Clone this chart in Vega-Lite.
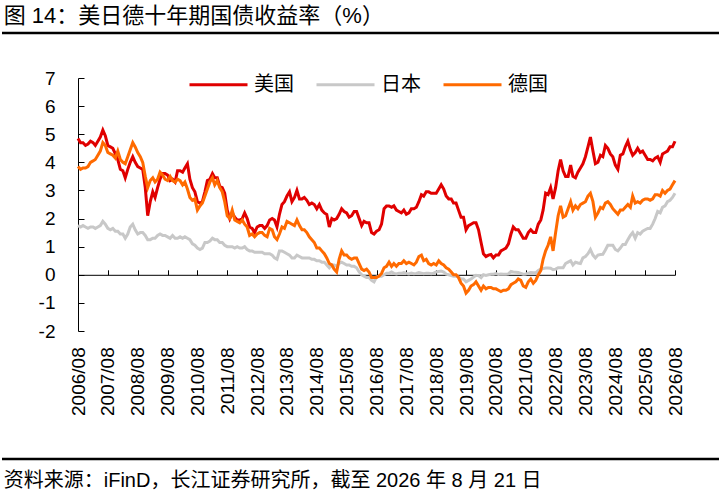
{
  "$schema": "https://vega.github.io/schema/vega-lite/v6.json",
  "padding": {"top": 4, "left": 0, "right": 0, "bottom": 0},
  "spacing": 34,
  "config": {
    "view": {"stroke": null},
    "font": "Liberation Sans, Noto Sans CJK SC"
  },
  "vconcat": [
    {
      "width": 719,
      "height": 1,
      "title": {"text": "图 14：美日德十年期国债收益率（%）", "anchor": "start", "fontSize": 22, "fontWeight": "normal", "color": "#000", "offset": 4, "dx": 3},
      "data": {"values": [{}]},
      "mark": {"type": "rule", "strokeWidth": 2.5, "color": "#000"},
      "encoding": {"y": {"datum": 1, "type": "quantitative", "scale": {"domain": [0, 1]}, "axis": null}}
    },
    {
      "width": 673,
      "height": 253,
      "data": {
        "format": {"parse": {"d": "date:'%Y-%m'"}},
        "values": [
{"d":"2006-08","c":"美国","v":4.85},{"d":"2006-09","c":"美国","v":4.7},{"d":"2006-10","c":"美国","v":4.7},{"d":"2006-11","c":"美国","v":4.6},{"d":"2006-12","c":"美国","v":4.65},
{"d":"2007-01","c":"美国","v":4.75},{"d":"2007-02","c":"美国","v":4.7},{"d":"2007-03","c":"美国","v":4.6},{"d":"2007-04","c":"美国","v":4.75},{"d":"2007-05","c":"美国","v":4.9},{"d":"2007-06","c":"美国","v":5.15},{"d":"2007-07","c":"美国","v":4.95},{"d":"2007-08","c":"美国","v":4.6},{"d":"2007-09","c":"美国","v":4.55},{"d":"2007-10","c":"美国","v":4.5},{"d":"2007-11","c":"美国","v":4.3},{"d":"2007-12","c":"美国","v":4.1},
{"d":"2008-01","c":"美国","v":3.75},{"d":"2008-02","c":"美国","v":3.7},{"d":"2008-03","c":"美国","v":3.45},{"d":"2008-04","c":"美国","v":3.75},{"d":"2008-05","c":"美国","v":4.0},{"d":"2008-06","c":"美国","v":4.2},{"d":"2008-07","c":"美国","v":4.0},{"d":"2008-08","c":"美国","v":3.85},{"d":"2008-09","c":"美国","v":3.8},{"d":"2008-10","c":"美国","v":3.75},{"d":"2008-11","c":"美国","v":3.1},{"d":"2008-12","c":"美国","v":2.1},
{"d":"2009-01","c":"美国","v":2.6},{"d":"2009-02","c":"美国","v":2.95},{"d":"2009-03","c":"美国","v":2.75},{"d":"2009-04","c":"美国","v":3.1},{"d":"2009-05","c":"美国","v":3.4},{"d":"2009-06","c":"美国","v":3.6},{"d":"2009-07","c":"美国","v":3.6},{"d":"2009-08","c":"美国","v":3.55},{"d":"2009-09","c":"美国","v":3.35},{"d":"2009-10","c":"美国","v":3.4},{"d":"2009-11","c":"美国","v":3.3},{"d":"2009-12","c":"美国","v":3.7},
{"d":"2010-01","c":"美国","v":3.7},{"d":"2010-02","c":"美国","v":3.65},{"d":"2010-03","c":"美国","v":3.8},{"d":"2010-04","c":"美国","v":3.95},{"d":"2010-05","c":"美国","v":3.4},{"d":"2010-06","c":"美国","v":3.1},{"d":"2010-07","c":"美国","v":2.95},{"d":"2010-08","c":"美国","v":2.6},{"d":"2010-09","c":"美国","v":2.55},{"d":"2010-10","c":"美国","v":2.6},{"d":"2010-11","c":"美国","v":2.95},{"d":"2010-12","c":"美国","v":3.35},
{"d":"2011-01","c":"美国","v":3.4},{"d":"2011-02","c":"美国","v":3.6},{"d":"2011-03","c":"美国","v":3.45},{"d":"2011-04","c":"美国","v":3.45},{"d":"2011-05","c":"美国","v":3.15},{"d":"2011-06","c":"美国","v":3.1},{"d":"2011-07","c":"美国","v":2.9},{"d":"2011-08","c":"美国","v":2.3},{"d":"2011-09","c":"美国","v":2.0},{"d":"2011-10","c":"美国","v":2.2},{"d":"2011-11","c":"美国","v":2.05},{"d":"2011-12","c":"美国","v":1.95},
{"d":"2012-01","c":"美国","v":1.95},{"d":"2012-02","c":"美国","v":2.0},{"d":"2012-03","c":"美国","v":2.2},{"d":"2012-04","c":"美国","v":2.0},{"d":"2012-05","c":"美国","v":1.7},{"d":"2012-06","c":"美国","v":1.65},{"d":"2012-07","c":"美国","v":1.5},{"d":"2012-08","c":"美国","v":1.7},{"d":"2012-09","c":"美国","v":1.75},{"d":"2012-10","c":"美国","v":1.75},{"d":"2012-11","c":"美国","v":1.65},{"d":"2012-12","c":"美国","v":1.75},
{"d":"2013-01","c":"美国","v":1.95},{"d":"2013-02","c":"美国","v":2.0},{"d":"2013-03","c":"美国","v":1.95},{"d":"2013-04","c":"美国","v":1.7},{"d":"2013-05","c":"美国","v":2.15},{"d":"2013-06","c":"美国","v":2.5},{"d":"2013-07","c":"美国","v":2.6},{"d":"2013-08","c":"美国","v":2.8},{"d":"2013-09","c":"美国","v":2.95},{"d":"2013-10","c":"美国","v":2.6},{"d":"2013-11","c":"美国","v":2.75},{"d":"2013-12","c":"美国","v":3.0},
{"d":"2014-01","c":"美国","v":2.7},{"d":"2014-02","c":"美国","v":2.7},{"d":"2014-03","c":"美国","v":2.75},{"d":"2014-04","c":"美国","v":2.65},{"d":"2014-05","c":"美国","v":2.5},{"d":"2014-06","c":"美国","v":2.55},{"d":"2014-07","c":"美国","v":2.5},{"d":"2014-08","c":"美国","v":2.35},{"d":"2014-09","c":"美国","v":2.5},{"d":"2014-10","c":"美国","v":2.3},{"d":"2014-11","c":"美国","v":2.2},{"d":"2014-12","c":"美国","v":2.15},
{"d":"2015-01","c":"美国","v":1.7},{"d":"2015-02","c":"美国","v":2.0},{"d":"2015-03","c":"美国","v":1.95},{"d":"2015-04","c":"美国","v":2.0},{"d":"2015-05","c":"美国","v":2.15},{"d":"2015-06","c":"美国","v":2.35},{"d":"2015-07","c":"美国","v":2.25},{"d":"2015-08","c":"美国","v":2.2},{"d":"2015-09","c":"美国","v":2.05},{"d":"2015-10","c":"美国","v":2.1},{"d":"2015-11","c":"美国","v":2.25},{"d":"2015-12","c":"美国","v":2.25},
{"d":"2016-01","c":"美国","v":2.0},{"d":"2016-02","c":"美国","v":1.75},{"d":"2016-03","c":"美国","v":1.9},{"d":"2016-04","c":"美国","v":1.85},{"d":"2016-05","c":"美国","v":1.85},{"d":"2016-06","c":"美国","v":1.5},{"d":"2016-07","c":"美国","v":1.45},{"d":"2016-08","c":"美国","v":1.55},{"d":"2016-09","c":"美国","v":1.6},{"d":"2016-10","c":"美国","v":1.8},{"d":"2016-11","c":"美国","v":2.35},{"d":"2016-12","c":"美国","v":2.45},
{"d":"2017-01","c":"美国","v":2.45},{"d":"2017-02","c":"美国","v":2.4},{"d":"2017-03","c":"美国","v":2.45},{"d":"2017-04","c":"美国","v":2.3},{"d":"2017-05","c":"美国","v":2.25},{"d":"2017-06","c":"美国","v":2.2},{"d":"2017-07","c":"美国","v":2.3},{"d":"2017-08","c":"美国","v":2.15},{"d":"2017-09","c":"美国","v":2.2},{"d":"2017-10","c":"美国","v":2.35},{"d":"2017-11","c":"美国","v":2.35},{"d":"2017-12","c":"美国","v":2.4},
{"d":"2018-01","c":"美国","v":2.6},{"d":"2018-02","c":"美国","v":2.85},{"d":"2018-03","c":"美国","v":2.8},{"d":"2018-04","c":"美国","v":2.95},{"d":"2018-05","c":"美国","v":2.95},{"d":"2018-06","c":"美国","v":2.9},{"d":"2018-07","c":"美国","v":2.9},{"d":"2018-08","c":"美国","v":2.9},{"d":"2018-09","c":"美国","v":3.05},{"d":"2018-10","c":"美国","v":3.2},{"d":"2018-11","c":"美国","v":3.05},{"d":"2018-12","c":"美国","v":2.8},
{"d":"2019-01","c":"美国","v":2.7},{"d":"2019-02","c":"美国","v":2.7},{"d":"2019-03","c":"美国","v":2.55},{"d":"2019-04","c":"美国","v":2.55},{"d":"2019-05","c":"美国","v":2.3},{"d":"2019-06","c":"美国","v":2.05},{"d":"2019-07","c":"美国","v":2.05},{"d":"2019-08","c":"美国","v":1.6},{"d":"2019-09","c":"美国","v":1.75},{"d":"2019-10","c":"美国","v":1.8},{"d":"2019-11","c":"美国","v":1.85},{"d":"2019-12","c":"美国","v":1.85},
{"d":"2020-01","c":"美国","v":1.6},{"d":"2020-02","c":"美国","v":1.15},{"d":"2020-03","c":"美国","v":0.75},{"d":"2020-04","c":"美国","v":0.65},{"d":"2020-05","c":"美国","v":0.7},{"d":"2020-06","c":"美国","v":0.72},{"d":"2020-07","c":"美国","v":0.6},{"d":"2020-08","c":"美国","v":0.7},{"d":"2020-09","c":"美国","v":0.7},{"d":"2020-10","c":"美国","v":0.85},{"d":"2020-11","c":"美国","v":0.9},{"d":"2020-12","c":"美国","v":0.95},
{"d":"2021-01","c":"美国","v":1.1},{"d":"2021-02","c":"美国","v":1.45},{"d":"2021-03","c":"美国","v":1.7},{"d":"2021-04","c":"美国","v":1.6},{"d":"2021-05","c":"美国","v":1.6},{"d":"2021-06","c":"美国","v":1.45},{"d":"2021-07","c":"美国","v":1.3},{"d":"2021-08","c":"美国","v":1.3},{"d":"2021-09","c":"美国","v":1.5},{"d":"2021-10","c":"美国","v":1.6},{"d":"2021-11","c":"美国","v":1.5},{"d":"2021-12","c":"美国","v":1.5},
{"d":"2022-01","c":"美国","v":1.8},{"d":"2022-02","c":"美国","v":1.95},{"d":"2022-03","c":"美国","v":2.3},{"d":"2022-04","c":"美国","v":2.9},{"d":"2022-05","c":"美国","v":2.85},{"d":"2022-06","c":"美国","v":3.1},{"d":"2022-07","c":"美国","v":2.7},{"d":"2022-08","c":"美国","v":3.1},{"d":"2022-09","c":"美国","v":3.7},{"d":"2022-10","c":"美国","v":4.1},{"d":"2022-11","c":"美国","v":3.7},{"d":"2022-12","c":"美国","v":3.5},
{"d":"2023-01","c":"美国","v":3.5},{"d":"2023-02","c":"美国","v":3.9},{"d":"2023-03","c":"美国","v":3.5},{"d":"2023-04","c":"美国","v":3.45},{"d":"2023-05","c":"美国","v":3.65},{"d":"2023-06","c":"美国","v":3.8},{"d":"2023-07","c":"美国","v":3.95},{"d":"2023-08","c":"美国","v":4.2},{"d":"2023-09","c":"美国","v":4.55},{"d":"2023-10","c":"美国","v":4.9},{"d":"2023-11","c":"美国","v":4.4},{"d":"2023-12","c":"美国","v":3.95},
{"d":"2024-01","c":"美国","v":4.0},{"d":"2024-02","c":"美国","v":4.25},{"d":"2024-03","c":"美国","v":4.2},{"d":"2024-04","c":"美国","v":4.6},{"d":"2024-05","c":"美国","v":4.5},{"d":"2024-06","c":"美国","v":4.3},{"d":"2024-07","c":"美国","v":4.2},{"d":"2024-08","c":"美国","v":3.9},{"d":"2024-09","c":"美国","v":3.75},{"d":"2024-10","c":"美国","v":4.25},{"d":"2024-11","c":"美国","v":4.3},{"d":"2024-12","c":"美国","v":4.55},
{"d":"2025-01","c":"美国","v":4.75},{"d":"2025-02","c":"美国","v":4.45},{"d":"2025-03","c":"美国","v":4.25},{"d":"2025-04","c":"美国","v":4.35},{"d":"2025-05","c":"美国","v":4.5},{"d":"2025-06","c":"美国","v":4.35},{"d":"2025-07","c":"美国","v":4.4},{"d":"2025-08","c":"美国","v":4.25},{"d":"2025-09","c":"美国","v":4.1},{"d":"2025-10","c":"美国","v":4.1},{"d":"2025-11","c":"美国","v":4.05},{"d":"2025-12","c":"美国","v":4.15},
{"d":"2026-01","c":"美国","v":4.2},{"d":"2026-02","c":"美国","v":4.0},{"d":"2026-03","c":"美国","v":4.3},{"d":"2026-04","c":"美国","v":4.35},{"d":"2026-05","c":"美国","v":4.4},{"d":"2026-06","c":"美国","v":4.55},{"d":"2026-07","c":"美国","v":4.55},{"d":"2026-08","c":"美国","v":4.75},
{"d":"2006-08","c":"日本","v":1.75},{"d":"2006-09","c":"日本","v":1.7},{"d":"2006-10","c":"日本","v":1.75},{"d":"2006-11","c":"日本","v":1.7},{"d":"2006-12","c":"日本","v":1.65},
{"d":"2007-01","c":"日本","v":1.7},{"d":"2007-02","c":"日本","v":1.7},{"d":"2007-03","c":"日本","v":1.65},{"d":"2007-04","c":"日本","v":1.7},{"d":"2007-05","c":"日本","v":1.75},{"d":"2007-06","c":"日本","v":1.9},{"d":"2007-07","c":"日本","v":1.8},{"d":"2007-08","c":"日本","v":1.65},{"d":"2007-09","c":"日本","v":1.6},{"d":"2007-10","c":"日本","v":1.65},{"d":"2007-11","c":"日本","v":1.55},{"d":"2007-12","c":"日本","v":1.55},
{"d":"2008-01","c":"日本","v":1.45},{"d":"2008-02","c":"日本","v":1.45},{"d":"2008-03","c":"日本","v":1.3},{"d":"2008-04","c":"日本","v":1.45},{"d":"2008-05","c":"日本","v":1.7},{"d":"2008-06","c":"日本","v":1.8},{"d":"2008-07","c":"日本","v":1.6},{"d":"2008-08","c":"日本","v":1.45},{"d":"2008-09","c":"日本","v":1.5},{"d":"2008-10","c":"日本","v":1.5},{"d":"2008-11","c":"日本","v":1.4},{"d":"2008-12","c":"日本","v":1.25},
{"d":"2009-01","c":"日本","v":1.25},{"d":"2009-02","c":"日本","v":1.3},{"d":"2009-03","c":"日本","v":1.3},{"d":"2009-04","c":"日本","v":1.4},{"d":"2009-05","c":"日本","v":1.45},{"d":"2009-06","c":"日本","v":1.4},{"d":"2009-07","c":"日本","v":1.4},{"d":"2009-08","c":"日本","v":1.35},{"d":"2009-09","c":"日本","v":1.3},{"d":"2009-10","c":"日本","v":1.4},{"d":"2009-11","c":"日本","v":1.3},{"d":"2009-12","c":"日本","v":1.3},
{"d":"2010-01","c":"日本","v":1.35},{"d":"2010-02","c":"日本","v":1.3},{"d":"2010-03","c":"日本","v":1.35},{"d":"2010-04","c":"日本","v":1.3},{"d":"2010-05","c":"日本","v":1.25},{"d":"2010-06","c":"日本","v":1.1},{"d":"2010-07","c":"日本","v":1.05},{"d":"2010-08","c":"日本","v":0.95},{"d":"2010-09","c":"日本","v":0.9},{"d":"2010-10","c":"日本","v":0.95},{"d":"2010-11","c":"日本","v":1.15},{"d":"2010-12","c":"日本","v":1.15},
{"d":"2011-01","c":"日本","v":1.2},{"d":"2011-02","c":"日本","v":1.3},{"d":"2011-03","c":"日本","v":1.25},{"d":"2011-04","c":"日本","v":1.25},{"d":"2011-05","c":"日本","v":1.15},{"d":"2011-06","c":"日本","v":1.15},{"d":"2011-07","c":"日本","v":1.05},{"d":"2011-08","c":"日本","v":1.0},{"d":"2011-09","c":"日本","v":1.0},{"d":"2011-10","c":"日本","v":1.0},{"d":"2011-11","c":"日本","v":0.95},{"d":"2011-12","c":"日本","v":1.0},
{"d":"2012-01","c":"日本","v":0.95},{"d":"2012-02","c":"日本","v":0.95},{"d":"2012-03","c":"日本","v":1.0},{"d":"2012-04","c":"日本","v":0.9},{"d":"2012-05","c":"日本","v":0.85},{"d":"2012-06","c":"日本","v":0.85},{"d":"2012-07","c":"日本","v":0.8},{"d":"2012-08","c":"日本","v":0.8},{"d":"2012-09","c":"日本","v":0.8},{"d":"2012-10","c":"日本","v":0.8},{"d":"2012-11","c":"日本","v":0.75},{"d":"2012-12","c":"日本","v":0.75},
{"d":"2013-01","c":"日本","v":0.75},{"d":"2013-02","c":"日本","v":0.7},{"d":"2013-03","c":"日本","v":0.6},{"d":"2013-04","c":"日本","v":0.55},{"d":"2013-05","c":"日本","v":0.85},{"d":"2013-06","c":"日本","v":0.85},{"d":"2013-07","c":"日本","v":0.8},{"d":"2013-08","c":"日本","v":0.75},{"d":"2013-09","c":"日本","v":0.7},{"d":"2013-10","c":"日本","v":0.6},{"d":"2013-11","c":"日本","v":0.6},{"d":"2013-12","c":"日本","v":0.7},
{"d":"2014-01","c":"日本","v":0.65},{"d":"2014-02","c":"日本","v":0.6},{"d":"2014-03","c":"日本","v":0.6},{"d":"2014-04","c":"日本","v":0.6},{"d":"2014-05","c":"日本","v":0.6},{"d":"2014-06","c":"日本","v":0.55},{"d":"2014-07","c":"日本","v":0.55},{"d":"2014-08","c":"日本","v":0.5},{"d":"2014-09","c":"日本","v":0.5},{"d":"2014-10","c":"日本","v":0.45},{"d":"2014-11","c":"日本","v":0.45},{"d":"2014-12","c":"日本","v":0.35},
{"d":"2015-01","c":"日本","v":0.25},{"d":"2015-02","c":"日本","v":0.35},{"d":"2015-03","c":"日本","v":0.35},{"d":"2015-04","c":"日本","v":0.3},{"d":"2015-05","c":"日本","v":0.4},{"d":"2015-06","c":"日本","v":0.45},{"d":"2015-07","c":"日本","v":0.4},{"d":"2015-08","c":"日本","v":0.35},{"d":"2015-09","c":"日本","v":0.35},{"d":"2015-10","c":"日本","v":0.3},{"d":"2015-11","c":"日本","v":0.3},{"d":"2015-12","c":"日本","v":0.25},
{"d":"2016-01","c":"日本","v":0.1},{"d":"2016-02","c":"日本","v":0.0},{"d":"2016-03","c":"日本","v":-0.05},{"d":"2016-04","c":"日本","v":-0.1},{"d":"2016-05","c":"日本","v":-0.1},{"d":"2016-06","c":"日本","v":-0.2},{"d":"2016-07","c":"日本","v":-0.25},{"d":"2016-08","c":"日本","v":-0.08},{"d":"2016-09","c":"日本","v":-0.05},{"d":"2016-10","c":"日本","v":-0.05},{"d":"2016-11","c":"日本","v":0.0},{"d":"2016-12","c":"日本","v":0.05},
{"d":"2017-01","c":"日本","v":0.05},{"d":"2017-02","c":"日本","v":0.1},{"d":"2017-03","c":"日本","v":0.05},{"d":"2017-04","c":"日本","v":0.03},{"d":"2017-05","c":"日本","v":0.05},{"d":"2017-06","c":"日本","v":0.05},{"d":"2017-07","c":"日本","v":0.08},{"d":"2017-08","c":"日本","v":0.05},{"d":"2017-09","c":"日本","v":0.03},{"d":"2017-10","c":"日本","v":0.06},{"d":"2017-11","c":"日本","v":0.04},{"d":"2017-12","c":"日本","v":0.05},
{"d":"2018-01","c":"日本","v":0.08},{"d":"2018-02","c":"日本","v":0.06},{"d":"2018-03","c":"日本","v":0.04},{"d":"2018-04","c":"日本","v":0.05},{"d":"2018-05","c":"日本","v":0.05},{"d":"2018-06","c":"日本","v":0.04},{"d":"2018-07","c":"日本","v":0.06},{"d":"2018-08","c":"日本","v":0.1},{"d":"2018-09","c":"日本","v":0.12},{"d":"2018-10","c":"日本","v":0.13},{"d":"2018-11","c":"日本","v":0.1},{"d":"2018-12","c":"日本","v":0.02},
{"d":"2019-01","c":"日本","v":0.0},{"d":"2019-02","c":"日本","v":-0.03},{"d":"2019-03","c":"日本","v":-0.05},{"d":"2019-04","c":"日本","v":-0.05},{"d":"2019-05","c":"日本","v":-0.08},{"d":"2019-06","c":"日本","v":-0.15},{"d":"2019-07","c":"日本","v":-0.15},{"d":"2019-08","c":"日本","v":-0.25},{"d":"2019-09","c":"日本","v":-0.2},{"d":"2019-10","c":"日本","v":-0.15},{"d":"2019-11","c":"日本","v":-0.08},{"d":"2019-12","c":"日本","v":-0.02},
{"d":"2020-01","c":"日本","v":-0.03},{"d":"2020-02","c":"日本","v":-0.1},{"d":"2020-03","c":"日本","v":0.0},{"d":"2020-04","c":"日本","v":-0.02},{"d":"2020-05","c":"日本","v":0.0},{"d":"2020-06","c":"日本","v":0.02},{"d":"2020-07","c":"日本","v":0.02},{"d":"2020-08","c":"日本","v":0.04},{"d":"2020-09","c":"日本","v":0.01},{"d":"2020-10","c":"日本","v":0.03},{"d":"2020-11","c":"日本","v":0.02},{"d":"2020-12","c":"日本","v":0.02},
{"d":"2021-01","c":"日本","v":0.03},{"d":"2021-02","c":"日本","v":0.12},{"d":"2021-03","c":"日本","v":0.1},{"d":"2021-04","c":"日本","v":0.09},{"d":"2021-05","c":"日本","v":0.08},{"d":"2021-06","c":"日本","v":0.05},{"d":"2021-07","c":"日本","v":0.02},{"d":"2021-08","c":"日本","v":0.03},{"d":"2021-09","c":"日本","v":0.06},{"d":"2021-10","c":"日本","v":0.08},{"d":"2021-11","c":"日本","v":0.07},{"d":"2021-12","c":"日本","v":0.07},
{"d":"2022-01","c":"日本","v":0.15},{"d":"2022-02","c":"日本","v":0.2},{"d":"2022-03","c":"日本","v":0.22},{"d":"2022-04","c":"日本","v":0.24},{"d":"2022-05","c":"日本","v":0.24},{"d":"2022-06","c":"日本","v":0.23},{"d":"2022-07","c":"日本","v":0.18},{"d":"2022-08","c":"日本","v":0.2},{"d":"2022-09","c":"日本","v":0.25},{"d":"2022-10","c":"日本","v":0.25},{"d":"2022-11","c":"日本","v":0.25},{"d":"2022-12","c":"日本","v":0.4},
{"d":"2023-01","c":"日本","v":0.45},{"d":"2023-02","c":"日本","v":0.5},{"d":"2023-03","c":"日本","v":0.35},{"d":"2023-04","c":"日本","v":0.45},{"d":"2023-05","c":"日本","v":0.42},{"d":"2023-06","c":"日本","v":0.4},{"d":"2023-07","c":"日本","v":0.6},{"d":"2023-08","c":"日本","v":0.65},{"d":"2023-09","c":"日本","v":0.75},{"d":"2023-10","c":"日本","v":0.9},{"d":"2023-11","c":"日本","v":0.7},{"d":"2023-12","c":"日本","v":0.6},
{"d":"2024-01","c":"日本","v":0.7},{"d":"2024-02","c":"日本","v":0.72},{"d":"2024-03","c":"日本","v":0.73},{"d":"2024-04","c":"日本","v":0.88},{"d":"2024-05","c":"日本","v":1.05},{"d":"2024-06","c":"日本","v":1.05},{"d":"2024-07","c":"日本","v":1.05},{"d":"2024-08","c":"日本","v":0.9},{"d":"2024-09","c":"日本","v":0.85},{"d":"2024-10","c":"日本","v":0.95},{"d":"2024-11","c":"日本","v":1.08},{"d":"2024-12","c":"日本","v":1.08},
{"d":"2025-01","c":"日本","v":1.25},{"d":"2025-02","c":"日本","v":1.4},{"d":"2025-03","c":"日本","v":1.5},{"d":"2025-04","c":"日本","v":1.3},{"d":"2025-05","c":"日本","v":1.5},{"d":"2025-06","c":"日本","v":1.45},{"d":"2025-07","c":"日本","v":1.55},{"d":"2025-08","c":"日本","v":1.6},{"d":"2025-09","c":"日本","v":1.65},{"d":"2025-10","c":"日本","v":1.65},{"d":"2025-11","c":"日本","v":1.8},{"d":"2025-12","c":"日本","v":2.0},
{"d":"2026-01","c":"日本","v":2.25},{"d":"2026-02","c":"日本","v":2.2},{"d":"2026-03","c":"日本","v":2.4},{"d":"2026-04","c":"日本","v":2.45},{"d":"2026-05","c":"日本","v":2.6},{"d":"2026-06","c":"日本","v":2.65},{"d":"2026-07","c":"日本","v":2.75},{"d":"2026-08","c":"日本","v":2.9},
{"d":"2006-08","c":"德国","v":3.85},{"d":"2006-09","c":"德国","v":3.75},{"d":"2006-10","c":"德国","v":3.8},{"d":"2006-11","c":"德国","v":3.8},{"d":"2006-12","c":"德国","v":3.85},
{"d":"2007-01","c":"德国","v":4.0},{"d":"2007-02","c":"德国","v":4.05},{"d":"2007-03","c":"德国","v":4.1},{"d":"2007-04","c":"德国","v":4.25},{"d":"2007-05","c":"德国","v":4.4},{"d":"2007-06","c":"德国","v":4.7},{"d":"2007-07","c":"德国","v":4.6},{"d":"2007-08","c":"德国","v":4.35},{"d":"2007-09","c":"德国","v":4.3},{"d":"2007-10","c":"德国","v":4.25},{"d":"2007-11","c":"德国","v":4.15},{"d":"2007-12","c":"德国","v":4.4},
{"d":"2008-01","c":"德国","v":4.1},{"d":"2008-02","c":"德国","v":4.0},{"d":"2008-03","c":"德国","v":3.95},{"d":"2008-04","c":"德国","v":4.2},{"d":"2008-05","c":"德国","v":4.45},{"d":"2008-06","c":"德国","v":4.7},{"d":"2008-07","c":"德国","v":4.55},{"d":"2008-08","c":"德国","v":4.35},{"d":"2008-09","c":"德国","v":4.2},{"d":"2008-10","c":"德国","v":4.0},{"d":"2008-11","c":"德国","v":3.5},{"d":"2008-12","c":"德国","v":3.1},
{"d":"2009-01","c":"德国","v":3.35},{"d":"2009-02","c":"德国","v":3.45},{"d":"2009-03","c":"德国","v":3.3},{"d":"2009-04","c":"德国","v":3.4},{"d":"2009-05","c":"德国","v":3.65},{"d":"2009-06","c":"德国","v":3.55},{"d":"2009-07","c":"德国","v":3.4},{"d":"2009-08","c":"德国","v":3.35},{"d":"2009-09","c":"德国","v":3.5},{"d":"2009-10","c":"德国","v":3.35},{"d":"2009-11","c":"德国","v":3.3},{"d":"2009-12","c":"德国","v":3.4},
{"d":"2010-01","c":"德国","v":3.35},{"d":"2010-02","c":"德国","v":3.2},{"d":"2010-03","c":"德国","v":3.3},{"d":"2010-04","c":"德国","v":3.05},{"d":"2010-05","c":"德国","v":2.75},{"d":"2010-06","c":"德国","v":2.65},{"d":"2010-07","c":"德国","v":2.7},{"d":"2010-08","c":"德国","v":2.3},{"d":"2010-09","c":"德国","v":2.45},{"d":"2010-10","c":"德国","v":2.55},{"d":"2010-11","c":"德国","v":2.8},{"d":"2010-12","c":"德国","v":3.05},
{"d":"2011-01","c":"德国","v":3.3},{"d":"2011-02","c":"德国","v":3.45},{"d":"2011-03","c":"德国","v":3.2},{"d":"2011-04","c":"德国","v":3.35},{"d":"2011-05","c":"德国","v":3.1},{"d":"2011-06","c":"德国","v":2.95},{"d":"2011-07","c":"德国","v":2.6},{"d":"2011-08","c":"德国","v":2.1},{"d":"2011-09","c":"德国","v":2.0},{"d":"2011-10","c":"德国","v":2.3},{"d":"2011-11","c":"德国","v":1.95},{"d":"2011-12","c":"德国","v":1.9},
{"d":"2012-01","c":"德国","v":1.85},{"d":"2012-02","c":"德国","v":1.95},{"d":"2012-03","c":"德国","v":1.8},{"d":"2012-04","c":"德国","v":1.7},{"d":"2012-05","c":"德国","v":1.4},{"d":"2012-06","c":"德国","v":1.45},{"d":"2012-07","c":"德国","v":1.35},{"d":"2012-08","c":"德国","v":1.45},{"d":"2012-09","c":"德国","v":1.5},{"d":"2012-10","c":"德国","v":1.5},{"d":"2012-11","c":"德国","v":1.4},{"d":"2012-12","c":"德国","v":1.35},
{"d":"2013-01","c":"德国","v":1.65},{"d":"2013-02","c":"德国","v":1.6},{"d":"2013-03","c":"德国","v":1.35},{"d":"2013-04","c":"德国","v":1.25},{"d":"2013-05","c":"德国","v":1.45},{"d":"2013-06","c":"德国","v":1.7},{"d":"2013-07","c":"德国","v":1.65},{"d":"2013-08","c":"德国","v":1.9},{"d":"2013-09","c":"德国","v":1.85},{"d":"2013-10","c":"德国","v":1.8},{"d":"2013-11","c":"德国","v":1.75},{"d":"2013-12","c":"德国","v":1.95},
{"d":"2014-01","c":"德国","v":1.75},{"d":"2014-02","c":"德国","v":1.6},{"d":"2014-03","c":"德国","v":1.6},{"d":"2014-04","c":"德国","v":1.5},{"d":"2014-05","c":"德国","v":1.35},{"d":"2014-06","c":"德国","v":1.25},{"d":"2014-07","c":"德国","v":1.15},{"d":"2014-08","c":"德国","v":0.95},{"d":"2014-09","c":"德国","v":0.95},{"d":"2014-10","c":"德国","v":0.85},{"d":"2014-11","c":"德国","v":0.75},{"d":"2014-12","c":"德国","v":0.6},
{"d":"2015-01","c":"德国","v":0.4},{"d":"2015-02","c":"德国","v":0.35},{"d":"2015-03","c":"德国","v":0.2},{"d":"2015-04","c":"德国","v":0.1},{"d":"2015-05","c":"德国","v":0.55},{"d":"2015-06","c":"德国","v":0.85},{"d":"2015-07","c":"德国","v":0.7},{"d":"2015-08","c":"德国","v":0.7},{"d":"2015-09","c":"德国","v":0.6},{"d":"2015-10","c":"德国","v":0.55},{"d":"2015-11","c":"德国","v":0.6},{"d":"2015-12","c":"德国","v":0.6},
{"d":"2016-01","c":"德国","v":0.4},{"d":"2016-02","c":"德国","v":0.2},{"d":"2016-03","c":"德国","v":0.15},{"d":"2016-04","c":"德国","v":0.2},{"d":"2016-05","c":"德国","v":0.1},{"d":"2016-06","c":"德国","v":-0.1},{"d":"2016-07","c":"德国","v":-0.1},{"d":"2016-08","c":"德国","v":-0.1},{"d":"2016-09","c":"德国","v":-0.05},{"d":"2016-10","c":"德国","v":0.05},{"d":"2016-11","c":"德国","v":0.25},{"d":"2016-12","c":"德国","v":0.3},
{"d":"2017-01","c":"德国","v":0.45},{"d":"2017-02","c":"德国","v":0.3},{"d":"2017-03","c":"德国","v":0.4},{"d":"2017-04","c":"德国","v":0.3},{"d":"2017-05","c":"德国","v":0.4},{"d":"2017-06","c":"德国","v":0.4},{"d":"2017-07","c":"德国","v":0.5},{"d":"2017-08","c":"德国","v":0.4},{"d":"2017-09","c":"德国","v":0.45},{"d":"2017-10","c":"德国","v":0.4},{"d":"2017-11","c":"德国","v":0.35},{"d":"2017-12","c":"德国","v":0.45},
{"d":"2018-01","c":"德国","v":0.65},{"d":"2018-02","c":"德国","v":0.7},{"d":"2018-03","c":"德国","v":0.5},{"d":"2018-04","c":"德国","v":0.55},{"d":"2018-05","c":"德国","v":0.4},{"d":"2018-06","c":"德国","v":0.35},{"d":"2018-07","c":"德国","v":0.4},{"d":"2018-08","c":"德国","v":0.35},{"d":"2018-09","c":"德国","v":0.5},{"d":"2018-10","c":"德国","v":0.4},{"d":"2018-11","c":"德国","v":0.35},{"d":"2018-12","c":"德国","v":0.25},
{"d":"2019-01","c":"德国","v":0.2},{"d":"2019-02","c":"德国","v":0.1},{"d":"2019-03","c":"德国","v":0.0},{"d":"2019-04","c":"德国","v":0.0},{"d":"2019-05","c":"德国","v":-0.1},{"d":"2019-06","c":"德国","v":-0.3},{"d":"2019-07","c":"德国","v":-0.4},{"d":"2019-08","c":"德国","v":-0.65},{"d":"2019-09","c":"德国","v":-0.55},{"d":"2019-10","c":"德国","v":-0.4},{"d":"2019-11","c":"德国","v":-0.35},{"d":"2019-12","c":"德国","v":-0.25},
{"d":"2020-01","c":"德国","v":-0.4},{"d":"2020-02","c":"德国","v":-0.55},{"d":"2020-03","c":"德国","v":-0.4},{"d":"2020-04","c":"德国","v":-0.5},{"d":"2020-05","c":"德国","v":-0.45},{"d":"2020-06","c":"德国","v":-0.45},{"d":"2020-07","c":"德国","v":-0.5},{"d":"2020-08","c":"德国","v":-0.5},{"d":"2020-09","c":"德国","v":-0.55},{"d":"2020-10","c":"德国","v":-0.6},{"d":"2020-11","c":"德国","v":-0.55},{"d":"2020-12","c":"德国","v":-0.55},
{"d":"2021-01","c":"德国","v":-0.5},{"d":"2021-02","c":"德国","v":-0.35},{"d":"2021-03","c":"德国","v":-0.3},{"d":"2021-04","c":"德国","v":-0.25},{"d":"2021-05","c":"德国","v":-0.15},{"d":"2021-06","c":"德国","v":-0.2},{"d":"2021-07","c":"德国","v":-0.4},{"d":"2021-08","c":"德国","v":-0.45},{"d":"2021-09","c":"德国","v":-0.25},{"d":"2021-10","c":"德国","v":-0.15},{"d":"2021-11","c":"德国","v":-0.3},{"d":"2021-12","c":"德国","v":-0.2},
{"d":"2022-01","c":"德国","v":0.0},{"d":"2022-02","c":"德国","v":0.15},{"d":"2022-03","c":"德国","v":0.55},{"d":"2022-04","c":"德国","v":0.85},{"d":"2022-05","c":"德国","v":1.05},{"d":"2022-06","c":"德国","v":1.35},{"d":"2022-07","c":"德国","v":0.85},{"d":"2022-08","c":"德国","v":1.5},{"d":"2022-09","c":"德国","v":2.1},{"d":"2022-10","c":"德国","v":2.45},{"d":"2022-11","c":"德国","v":2.05},{"d":"2022-12","c":"德国","v":2.1},
{"d":"2023-01","c":"德国","v":2.35},{"d":"2023-02","c":"德国","v":2.6},{"d":"2023-03","c":"德国","v":2.3},{"d":"2023-04","c":"德国","v":2.45},{"d":"2023-05","c":"德国","v":2.35},{"d":"2023-06","c":"德国","v":2.5},{"d":"2023-07","c":"德国","v":2.55},{"d":"2023-08","c":"德国","v":2.6},{"d":"2023-09","c":"德国","v":2.8},{"d":"2023-10","c":"德国","v":2.9},{"d":"2023-11","c":"德国","v":2.6},{"d":"2023-12","c":"德国","v":2.05},
{"d":"2024-01","c":"德国","v":2.2},{"d":"2024-02","c":"德国","v":2.4},{"d":"2024-03","c":"德国","v":2.35},{"d":"2024-04","c":"德国","v":2.55},{"d":"2024-05","c":"德国","v":2.6},{"d":"2024-06","c":"德国","v":2.5},{"d":"2024-07","c":"德国","v":2.35},{"d":"2024-08","c":"德国","v":2.25},{"d":"2024-09","c":"德国","v":2.15},{"d":"2024-10","c":"德国","v":2.3},{"d":"2024-11","c":"德国","v":2.3},{"d":"2024-12","c":"德国","v":2.4},
{"d":"2025-01","c":"德国","v":2.5},{"d":"2025-02","c":"德国","v":2.4},{"d":"2025-03","c":"德国","v":2.8},{"d":"2025-04","c":"德国","v":2.55},{"d":"2025-05","c":"德国","v":2.6},{"d":"2025-06","c":"德国","v":2.55},{"d":"2025-07","c":"德国","v":2.65},{"d":"2025-08","c":"德国","v":2.7},{"d":"2025-09","c":"德国","v":2.7},{"d":"2025-10","c":"德国","v":2.65},{"d":"2025-11","c":"德国","v":2.7},{"d":"2025-12","c":"德国","v":2.85},
{"d":"2026-01","c":"德国","v":2.85},{"d":"2026-02","c":"德国","v":2.8},{"d":"2026-03","c":"德国","v":3.0},{"d":"2026-04","c":"德国","v":2.9},{"d":"2026-05","c":"德国","v":3.0},{"d":"2026-06","c":"德国","v":3.05},{"d":"2026-07","c":"德国","v":3.2},{"d":"2026-08","c":"德国","v":3.35}
        ]
      },
      "mark": {"type": "line", "strokeWidth": 3},
      "encoding": {
        "x": {
          "field": "d",
          "type": "temporal",
          "scale": {"domain": [{"year": 2006, "month": 8, "date": 1}, {"year": 2026, "month": 8, "date": 1}], "range": [76, 673]},
          "axis": {
            "title": null,
            "values": [
              {"year": 2006, "month": 8, "date": 1}, {"year": 2007, "month": 8, "date": 1}, {"year": 2008, "month": 8, "date": 1},
              {"year": 2009, "month": 8, "date": 1}, {"year": 2010, "month": 8, "date": 1}, {"year": 2011, "month": 8, "date": 1},
              {"year": 2012, "month": 8, "date": 1}, {"year": 2013, "month": 8, "date": 1}, {"year": 2014, "month": 8, "date": 1},
              {"year": 2015, "month": 8, "date": 1}, {"year": 2016, "month": 8, "date": 1}, {"year": 2017, "month": 8, "date": 1},
              {"year": 2018, "month": 8, "date": 1}, {"year": 2019, "month": 8, "date": 1}, {"year": 2020, "month": 8, "date": 1},
              {"year": 2021, "month": 8, "date": 1}, {"year": 2022, "month": 8, "date": 1}, {"year": 2023, "month": 8, "date": 1},
              {"year": 2024, "month": 8, "date": 1}, {"year": 2025, "month": 8, "date": 1}, {"year": 2026, "month": 8, "date": 1}
            ],
            "format": "%Y/%m",
            "labelAngle": -90,
            "offset": -56.2,
            "tickSize": -5,
            "labelPadding": 77,
            "grid": false,
            "domainColor": "#000",
            "tickColor": "#000",
            "labelColor": "#000",
            "labelFontSize": 19,
            "labelOverlap": false,
            "labelFlush": false,
            "labelBound": false
          }
        },
        "y": {
          "field": "v",
          "type": "quantitative",
          "scale": {"domain": [-2, 7], "nice": false, "zero": false},
          "axis": {
            "title": null,
            "values": [-2, -1, 0, 1, 2, 3, 4, 5, 6, 7],
            "labelExpr": "replace(datum.label, '−', '-')",
            "offset": -76,
            "tickSize": -6,
            "labelPadding": 29,
            "grid": false,
            "domainColor": "#000",
            "tickColor": "#000",
            "labelColor": "#000",
            "labelFontSize": 19
          }
        },
        "color": {
          "field": "c",
          "type": "nominal",
          "scale": {"domain": ["美国", "日本", "德国"], "range": ["#e00000", "#c8c8c8", "#ff6a00"]},
          "legend": {
            "title": null,
            "orient": "none",
            "legendX": 186,
            "legendY": 21,
            "direction": "horizontal",
            "symbolType": "stroke",
            "symbolSize": 3364,
            "symbolStrokeWidth": 3,
            "labelFontSize": 20,
            "labelOffset": 5,
            "columnPadding": 16,
            "labelColor": "#000"
          }
        }
      }
    },
    {
      "width": 719,
      "height": 9,
      "title": {"text": "资料来源：iFinD，长江证券研究所，截至 2026 年 8 月 21 日", "orient": "bottom", "anchor": "start", "fontSize": 20, "fontWeight": "normal", "color": "#000", "offset": 11, "dx": 3},
      "data": {"values": [{}]},
      "mark": {"type": "rule", "strokeWidth": 2.5, "color": "#000"},
      "encoding": {"y": {"datum": 0, "type": "quantitative", "scale": {"domain": [0, 1]}, "axis": null}}
    }
  ]
}
